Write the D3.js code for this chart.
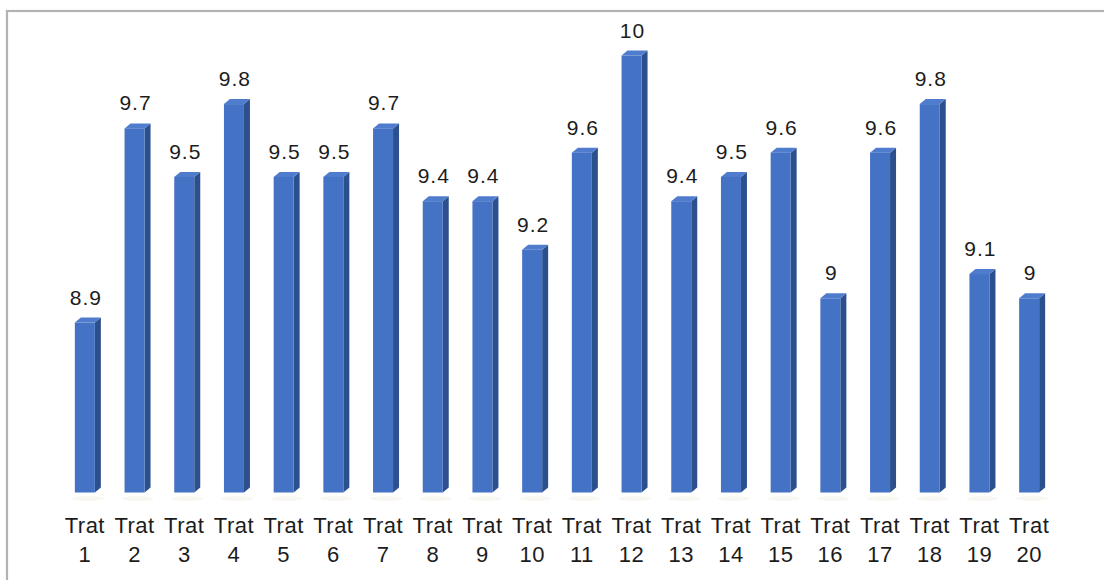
<!DOCTYPE html>
<html>
<head>
<meta charset="utf-8">
<script src="https://cdn.jsdelivr.net/npm/d3@7"></script>
<style>
  html, body { margin: 0; padding: 0; background: #ffffff; }
  svg { display: block; }
  text { font-family: "Liberation Sans", Arial, sans-serif; fill: #1c1c1c; }
</style>
</head>
<body>
<svg id="chart" width="1104" height="580"></svg>
<script>
// Treatments and their measured values
const categories = ["Trat 1","Trat 2","Trat 3","Trat 4","Trat 5","Trat 6","Trat 7","Trat 8","Trat 9","Trat 10",
                    "Trat 11","Trat 12","Trat 13","Trat 14","Trat 15","Trat 16","Trat 17","Trat 18","Trat 19","Trat 20"];
const values = [8.9, 9.7, 9.5, 9.8, 9.5, 9.5, 9.7, 9.4, 9.4, 9.2,
                9.6, 10, 9.4, 9.5, 9.6, 9, 9.6, 9.8, 9.1, 9];
const valueDomain = [8.2, 10.2];

const svg = d3.select("#chart");
const W = 1104, H = 580;

// chart frame
svg.append("rect")
  .attr("x", 7).attr("y", 11)
  .attr("width", W + 20).attr("height", H + 20)
  .attr("fill", "#ffffff")
  .attr("stroke", "#b4b2b4")
  .attr("stroke-width", 2.2);

const plot = { left: 60, right: 1054, top: 7, bottom: 492.5 };

const x = d3.scaleBand()
  .domain(categories)
  .range([plot.left, plot.right])
  .paddingInner(0.6)
  .paddingOuter(0.3);

const y = d3.scaleLinear()
  .domain(valueDomain)
  .range([plot.bottom, plot.top]);

const depthX = 6, depthY = 5;
const barW = 20;

const g = svg.append("g");

const bars = g.selectAll("g.bar")
  .data(categories.map((c, i) => ({ c, v: values[i] })))
  .join("g")
  .attr("class", "bar");

const cx = d => x(d.c) + x.bandwidth() / 2;

// faint floor shadow
bars.append("ellipse")
  .attr("cx", d => cx(d) + 3)
  .attr("cy", plot.bottom + 6)
  .attr("rx", 16).attr("ry", 2.5)
  .attr("fill", "#f8f7f2");

// side face
bars.append("polygon")
  .attr("points", d => {
    const x1 = cx(d) + barW / 2, t = y(d.v), b = plot.bottom;
    return [[x1, t], [x1 + depthX, t - depthY], [x1 + depthX, b - depthY], [x1, b]].join(" ");
  })
  .attr("fill", "#2c4f8e");

// top face
bars.append("polygon")
  .attr("points", d => {
    const x0 = cx(d) - barW / 2, x1 = cx(d) + barW / 2, t = y(d.v);
    return [[x0, t], [x0 + depthX, t - depthY], [x1 + depthX, t - depthY], [x1, t]].join(" ");
  })
  .attr("fill", "#4f7ccc");

// front face
bars.append("rect")
  .attr("x", d => cx(d) - barW / 2)
  .attr("y", d => y(d.v))
  .attr("width", barW)
  .attr("height", d => plot.bottom - y(d.v))
  .attr("fill", "#4472c4");

// value labels
bars.append("text")
  .attr("x", d => cx(d) + 1)
  .attr("y", d => y(d.v) - 18)
  .attr("text-anchor", "middle")
  .attr("font-size", 21)
  .attr("letter-spacing", 1)
  .text(d => d3.format("~g")(d.v));

// category labels on two lines
const axis = g.append("g");
categories.forEach(c => {
  const parts = c.split(" ");
  const t = axis.append("text")
    .attr("x", x(c) + x.bandwidth() / 2)
    .attr("y", 533)
    .attr("text-anchor", "middle")
    .attr("font-size", 22)
    .attr("letter-spacing", 0.5);
  parts.forEach((p, k) => {
    t.append("tspan")
      .attr("x", x(c) + x.bandwidth() / 2)
      .attr("dy", k === 0 ? 0 : 29)
      .text(p);
  });
});
</script>
</body>
</html>
